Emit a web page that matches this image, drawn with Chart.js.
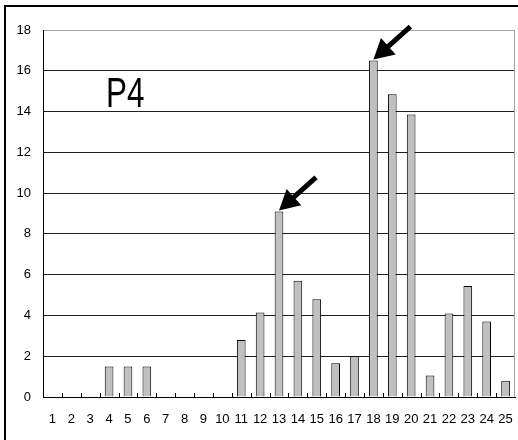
<!DOCTYPE html>
<html>
<head>
<meta charset="utf-8">
<script src="https://cdn.jsdelivr.net/npm/chart.js@4/dist/chart.umd.min.js"></script>
<style>
  html, body { margin: 0; padding: 0; background: #fff; }
  canvas { display: block; }
</style>
</head>
<body>
<canvas id="c" width="518" height="440"></canvas>
<script>
const categories = ['1','2','3','4','5','6','7','8','9','10','11','12','13','14','15','16','17','18','19','20','21','22','23','24','25'];
const values = [0, 0, 0, 1.5, 1.5, 1.5, 0, 0, 0, 0, 2.8, 4.15, 9.1, 5.7, 4.8, 1.65, 2.0, 16.5, 14.85, 13.85, 1.05, 4.1, 5.45, 3.7, 0.8];
const yTicks = [0, 2, 4, 6, 8, 10, 12, 14, 16, 18];
const panelLabel = 'P4';
const arrowTargets = ['13', '18'];

const decorations = {
  id: 'decorations',
  beforeDraw(chart) {
    const ctx = chart.ctx;
    ctx.save();
    ctx.fillStyle = '#fff';
    ctx.fillRect(0, 0, chart.width, chart.height);
    ctx.strokeStyle = '#000';
    ctx.lineWidth = 2;
    ctx.strokeRect(5, 6, 600, 600);
    ctx.restore();
  },
  afterDatasetsDraw(chart) {
    const ctx = chart.ctx;
    const area = chart.chartArea;
    const xs = chart.scales.x;
    ctx.save();
    // right border of plot
    ctx.strokeStyle = '#a0a0a0';
    ctx.lineWidth = 1;
    ctx.beginPath();
    ctx.moveTo(area.right - 0.5, area.top);
    ctx.lineTo(area.right - 0.5, area.bottom);
    ctx.stroke();
    // inner tick marks at category boundaries
    ctx.strokeStyle = '#000';
    for (let i = 1; i < categories.length; i++) {
      const x = Math.round((xs.getPixelForValue(i - 1) + xs.getPixelForValue(i)) / 2) + 0.5;
      ctx.beginPath();
      ctx.moveTo(x, area.bottom);
      ctx.lineTo(x, area.bottom - 4);
      ctx.stroke();
    }
    // panel label
    ctx.fillStyle = '#000';
    ctx.font = '43px "Liberation Sans", Arial, sans-serif';
    ctx.textBaseline = 'alphabetic';
    ctx.translate(106, 107);
    ctx.scale(0.73, 1);
    ctx.fillText(panelLabel, 0, 0);
    ctx.restore();

    // arrows
    const meta = chart.getDatasetMeta(0);
    ctx.save();
    ctx.fillStyle = '#000';
    ctx.strokeStyle = '#000';
    arrowTargets.forEach(cat => {
      const idx = categories.indexOf(cat);
      const bar = meta.data[idx];
      const tipX = bar.x, tipY = bar.y - 1;
      const tailX = tipX + 37, tailY = tipY - 33;
      const ang = Math.atan2(tipY - tailY, tipX - tailX);
      const headLen = 20, headHalf = 11;
      const bx = tipX - headLen * Math.cos(ang), by = tipY - headLen * Math.sin(ang);
      ctx.lineWidth = 5;
      ctx.lineCap = 'butt';
      ctx.beginPath();
      ctx.moveTo(tailX, tailY);
      ctx.lineTo(bx + 2 * Math.cos(ang), by + 2 * Math.sin(ang));
      ctx.stroke();
      ctx.beginPath();
      ctx.moveTo(tipX, tipY);
      ctx.lineTo(bx + headHalf * Math.sin(ang), by - headHalf * Math.cos(ang));
      ctx.lineTo(bx - headHalf * Math.sin(ang), by + headHalf * Math.cos(ang));
      ctx.closePath();
      ctx.fill();
    });
    ctx.restore();
  }
};

new Chart(document.getElementById('c'), {
  type: 'bar',
  data: {
    labels: categories,
    datasets: [{
      data: values,
      backgroundColor: '#c0c0c0',
      borderColor: '#000',
      borderWidth: 1,
      categoryPercentage: 1,
      barPercentage: 0.46
    }]
  },
  options: {
    responsive: false,
    devicePixelRatio: 1,
    animation: false,
    layout: { padding: { left: 0, top: 30, right: 3, bottom: 0 } },
    plugins: { legend: { display: false }, tooltip: { enabled: false } },
    scales: {
      x: {
        afterFit(s) { s.height = 43; s.paddingLeft = 0; s.paddingRight = 0; },
        grid: { drawOnChartArea: false, drawTicks: false },
        border: { display: true, color: '#000', width: 1 },
        ticks: {
          autoSkip: false, maxRotation: 0, minRotation: 0, padding: 15,
          color: '#000',
          font: { family: '"Liberation Sans", Arial, sans-serif', size: 13 }
        }
      },
      y: {
        min: 0, max: 18,
        afterFit(s) { s.width = 43; s.paddingTop = 0; s.paddingBottom = 0; },
        afterBuildTicks(s) { s.ticks = yTicks.map(v => ({ value: v })); },
        grid: {
          drawTicks: false,
          color: ctx => (ctx.tick && ctx.tick.value === 18) ? '#a0a0a0' : '#202020',
          lineWidth: 1
        },
        border: { display: true, color: '#000', width: 1 },
        ticks: {
          padding: 12,
          color: '#000',
          font: { family: '"Liberation Sans", Arial, sans-serif', size: 13 }
        }
      }
    }
  },
  plugins: [decorations]
});
</script>
</body>
</html>
